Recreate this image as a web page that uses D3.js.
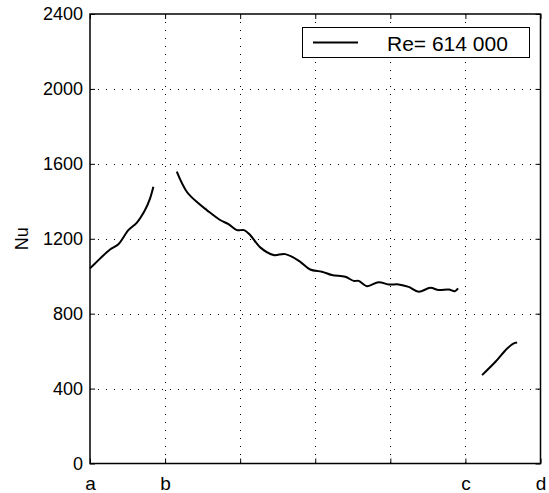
<!DOCTYPE html>
<html>
<head>
<meta charset="utf-8">
<script src="https://cdn.jsdelivr.net/npm/d3@7"></script>
<style>
  body { margin: 0; background: #fff; }
  text { font-family: "Liberation Sans", Arial, sans-serif; }
</style>
</head>
<body>
<svg id="chart" width="549" height="493"></svg>
<script>
// Nu along the wall segments a-b, b-c, c-d (x in segment units)
const seg1X = [0, 0.067, 0.267, 0.378, 0.511, 0.622, 0.733, 0.8, 0.844];
const seg1Y = [1042, 1068, 1143, 1171, 1246, 1285, 1353, 1416, 1478];

const seg2X = [1.156, 1.289, 1.444, 1.556, 1.733, 1.844, 1.956, 2.053, 2.133, 2.267, 2.444, 2.6, 2.8,
  2.933, 3.089, 3.222, 3.4, 3.511, 3.578, 3.689, 3.844, 3.978, 4.111, 4.244, 4.378, 4.533, 4.644, 4.778, 4.858, 4.902];
const seg2Y = [1558, 1451, 1389, 1353, 1300, 1278, 1246, 1246, 1220, 1154, 1113, 1118, 1077,
  1036, 1024, 1006, 997, 975, 975, 947, 968, 956, 956, 943, 917, 938, 926, 929, 920, 935];

const seg3X = [5.222, 5.4, 5.556, 5.644, 5.689];
const seg3Y = [472, 543, 614, 641, 646];

const xTicks = [0, 1, 2, 3, 4, 5, 6];
const xTickLabels = ["a", "b", "", "", "", "c", "d"];
const yTicks = [0, 400, 800, 1200, 1600, 2000, 2400];
const legendLabel = "Re= 614 000";

const svg = d3.select("#chart");
const pLeft = 90, pRight = 540.5, pTop = 14, pBottom = 463.5;

const x = d3.scaleLinear().domain([0, 6]).range([pLeft, pRight]);
const y = d3.scaleLinear().domain([0, 2400]).range([pBottom, pTop]);

// grid
const grid = svg.append("g")
  .attr("stroke", "#000")
  .attr("stroke-width", 1)
  .attr("stroke-dasharray", "1,7");
grid.selectAll("line.vg")
  .data(xTicks.slice(1, -1))
  .join("line")
  .attr("x1", d => Math.round(x(d)) + 0.5).attr("x2", d => Math.round(x(d)) + 0.5)
  .attr("y1", pTop).attr("y2", pBottom);
grid.selectAll("line.hg")
  .data(yTicks.slice(1, -1))
  .join("line")
  .attr("x1", pLeft).attr("x2", pRight)
  .attr("y1", d => Math.round(y(d)) + 0.5).attr("y2", d => Math.round(y(d)) + 0.5);

// axes, ticks pointing inward on all four sides
const xAxis = svg.append("g")
  .attr("transform", `translate(0,${pBottom})`)
  .call(d3.axisBottom(x).tickValues(xTicks).tickSize(-5).tickPadding(0)
    .tickFormat((d, i) => xTickLabels[i]))
  .call(g => g.select(".domain").remove());
xAxis.selectAll(".tick text")
  .attr("dy", null).attr("y", 26)
  .style("font-size", "19px");

svg.append("g")
  .attr("transform", `translate(0,${pTop})`)
  .call(d3.axisTop(x).tickValues(xTicks).tickSize(-5).tickFormat(""))
  .call(g => g.select(".domain").remove());

const yAxis = svg.append("g")
  .attr("transform", `translate(${pLeft},0)`)
  .call(d3.axisLeft(y).tickValues(yTicks).tickSize(-5).tickPadding(7).tickFormat(d3.format("d")))
  .call(g => g.select(".domain").remove());
yAxis.selectAll(".tick text").style("font-size", "18px");

svg.append("g")
  .attr("transform", `translate(${pRight},0)`)
  .call(d3.axisRight(y).tickValues(yTicks).tickSize(-5).tickFormat(""))
  .call(g => g.select(".domain").remove());

svg.selectAll(".tick line").attr("stroke-width", 1);
svg.selectAll(".tick text").attr("fill", "#000")
  .style("font-family", "'Liberation Sans', Arial, sans-serif");

svg.append("rect")
  .attr("x", pLeft).attr("y", pTop)
  .attr("width", pRight - pLeft).attr("height", pBottom - pTop)
  .attr("fill", "none").attr("stroke", "#000").attr("stroke-width", 1.5);

svg.append("text")
  .attr("transform", `translate(28,${(pTop + pBottom) / 2}) rotate(-90)`)
  .attr("text-anchor", "middle")
  .style("font-size", "18px")
  .text("Nu");

// curves
const line = d3.line()
  .x(d => x(d[0]))
  .y(d => y(d[1]))
  .curve(d3.curveCatmullRom);

[[seg1X, seg1Y], [seg2X, seg2Y], [seg3X, seg3Y]].forEach(([xs, ys]) => {
  svg.append("path")
    .datum(d3.zip(xs, ys))
    .attr("d", line)
    .attr("fill", "none")
    .attr("stroke", "#000")
    .attr("stroke-width", 2);
});

// legend
const legend = svg.append("g");
legend.append("rect")
  .attr("x", 302.5).attr("y", 27.5).attr("width", 227).attr("height", 30)
  .attr("fill", "#fff").attr("stroke", "#000").attr("stroke-width", 1);
legend.append("line")
  .attr("x1", 313).attr("x2", 358).attr("y1", 42.5).attr("y2", 42.5)
  .attr("stroke", "#000").attr("stroke-width", 2);
legend.append("text")
  .attr("x", 387).attr("y", 50.5)
  .style("font-size", "21px")
  .text(legendLabel);
</script>
</body>
</html>
